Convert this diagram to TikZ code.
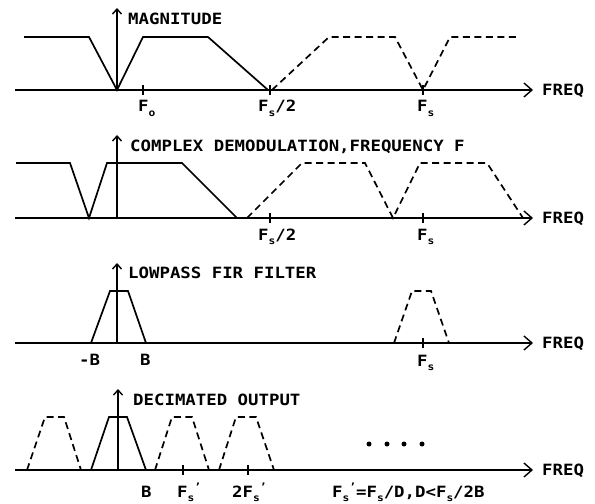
\documentclass[tikz,border=0pt]{standalone}
\usepackage{fontspec}
\usetikzlibrary{arrows.meta}
\newfontfamily\plotfam[FakeStretch=1.12]{DejaVu Sans Mono}
\newcommand\plotf{\plotfam\bfseries\fontsize{15.5bp}{18bp}\selectfont}
\newcommand\sbs[1]{\raisebox{-0.3em}{\fontsize{10bp}{10bp}\selectfont #1}}
\newcommand\Fs{F\sbs{s}}
\newcommand\Fsp{F\sbs{s}\raisebox{0.4em}{\fontsize{10bp}{10bp}\selectfont ’}}
\begin{document}
\begin{tikzpicture}[x=1bp,y=-1bp,line join=miter,
  axis/.style={line width=1.4bp,-{Straight Barb[length=8bp,width=14bp,line width=1.4bp]}},
  vax/.style={line width=1.6bp,-{Straight Barb[length=5bp,width=9bp,line width=1.4bp]}},
  sol/.style={line width=1.7bp},
  dsh/.style={line width=1.7bp,dash pattern=on 7bp off 4.5bp},
  tck/.style={line width=1.6bp},
  lab/.style={inner sep=0pt,anchor=base west,font=\plotf},
  dot/.style={circle,fill=black,inner sep=0pt,minimum size=5bp}]
\useasboundingbox (0,0) rectangle (595,504);

% ---------- panel 1 ----------
\coordinate (a1s) at (15,90); \coordinate (a1e) at (533,90);
\coordinate (v1b) at (117,90); \coordinate (v1t) at (117,8);
\draw[axis] (a1s) -- (a1e);
\draw[vax] (v1b) -- (v1t);
\node[lab] (mag) at (128,25) {MAGNITUDE};
\node[lab] (fq1) at (542,95.5) {FREQ};
\draw[sol] (24,37) -- (89,37) -- (117,90) -- (143,37) -- (208,37) -- (268,90);
\draw[dsh] (272,90) -- (329,37) -- (395,37) -- (423,90) -- (450,37) -- (517,37);
\draw[tck] (143,85) -- (143,95);
\draw[tck] (270,85) -- (270,95);
\draw[tck] (423,85) -- (423,95);
\node[lab] (fo) at (138,112) {F\sbs{o}};
\node[lab] (fh1) at (258,112) {\Fs/2};
\node[lab] (fs1) at (417,112) {\Fs};

% ---------- panel 2 ----------
\coordinate (a2s) at (15,218); \coordinate (a2e) at (533,218);
\coordinate (v2b) at (117,218); \coordinate (v2t) at (117,135);
\draw[axis] (a2s) -- (a2e);
\draw[vax] (v2b) -- (v2t);
\node[lab] (cdm) at (130,152) {COMPLEX DEMODULATION,FREQUENCY F};
\node[lab] (fq2) at (542,223.5) {FREQ};
\draw[sol] (16,163) -- (70,163) -- (89,218) -- (107,163) -- (182,163) -- (237,218);
\draw[dsh] (247,218) -- (302,163) -- (365,163) -- (393,218) -- (420,163) -- (487,163) -- (523,218);
\draw[tck] (270,213) -- (270,223);
\draw[tck] (423,213) -- (423,223);
\node[lab] (fh2) at (258,240) {\Fs/2};
\node[lab] (fs2) at (417,240) {\Fs};

% ---------- panel 3 ----------
\coordinate (a3s) at (15,343); \coordinate (a3e) at (533,343);
\coordinate (v3b) at (117,343); \coordinate (v3t) at (117,263);
\draw[axis] (a3s) -- (a3e);
\draw[vax] (v3b) -- (v3t);
\node[lab] (lpf) at (128,278) {LOWPASS FIR FILTER};
\node[lab] (fq3) at (542,348.5) {FREQ};
\draw[sol] (91,343) -- (110,291) -- (128,291) -- (146,343);
\draw[dsh] (394,343) -- (412,291) -- (431,291) -- (449,343);
\draw[tck] (423,338) -- (423,348);
\node[lab] (mb) at (79,365) {-B};
\node[lab] (pb) at (140,365) {B};
\node[lab] (fs3) at (417,366) {\Fs};

% ---------- panel 4 ----------
\coordinate (a4s) at (15,470); \coordinate (a4e) at (533,470);
\coordinate (v4b) at (118,470); \coordinate (v4t) at (118,389);
\draw[axis] (a4s) -- (a4e);
\draw[vax] (v4b) -- (v4t);
\node[lab] (dec) at (133,405) {DECIMATED OUTPUT};
\node[lab] (fq4) at (542,475.5) {FREQ};
\draw[dsh] (27,470) -- (45,417) -- (64,417) -- (81,470);
\draw[sol] (91,470) -- (109,417) -- (127,417) -- (146,470);
\draw[dsh] (155,470) -- (172,417) -- (192,417) -- (209,470);
\draw[dsh] (219,470) -- (236,417) -- (256,417) -- (274,470);
\draw[tck] (183,465) -- (183,475);
\draw[tck] (248,465) -- (248,475);
\node[dot] (d1) at (369,444) {};
\node[dot] (d2) at (387,444) {};
\node[dot] (d3) at (404,444) {};
\node[dot] (d4) at (422,444) {};
\node[lab] (b4) at (141,497) {B};
\node[lab] (fsp) at (177,497) {\Fsp};
\node[lab] (tfsp) at (232,497) {2\Fsp};
\node[lab] (frm) at (332,497) {\Fsp=\Fs/D,D<\Fs/2B};
\end{tikzpicture}
\end{document}
